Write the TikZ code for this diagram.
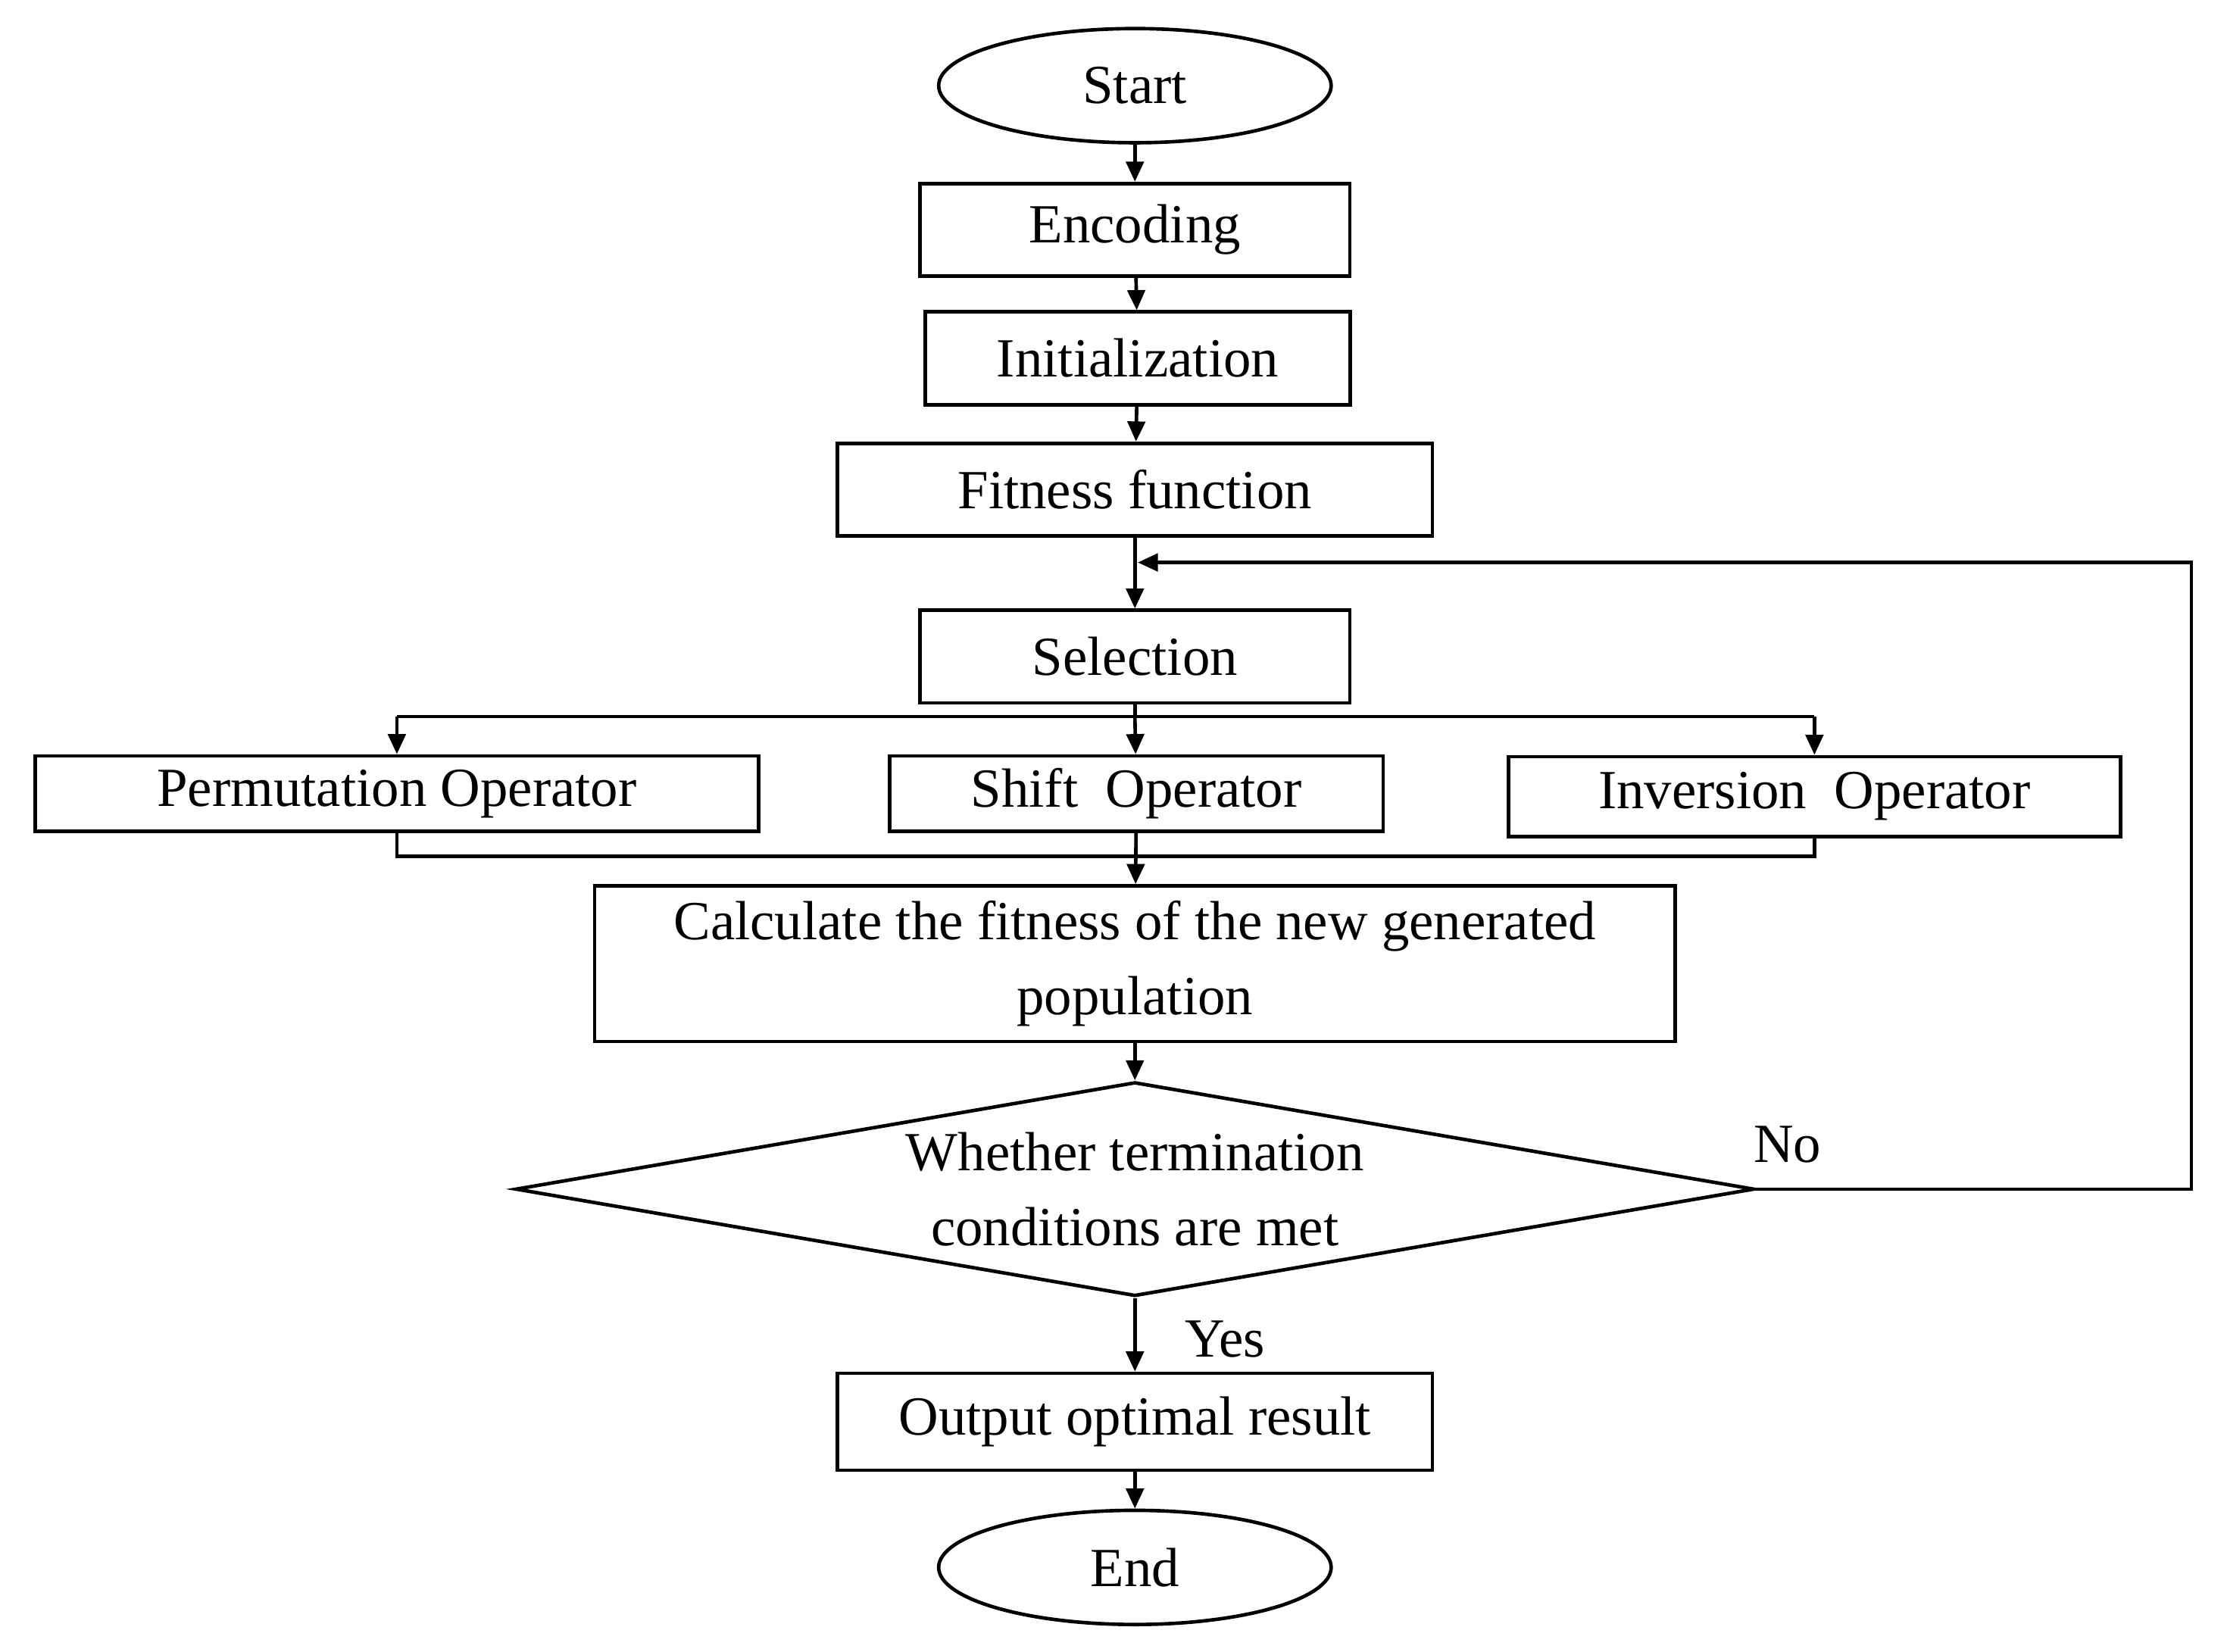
\documentclass[tikz,border=0pt]{standalone}
\usepackage{fontspec}
\setmainfont{Liberation Serif}
\usetikzlibrary{shapes.geometric,arrows.meta}
\begin{document}
\begin{tikzpicture}[x=0.02cm,y=-0.02cm,
    font=\fontsize{22}{30}\selectfont,
    proc/.style={rectangle, draw=black, line width=1.4pt, minimum height=1.3cm, align=center, inner sep=2pt},
    term/.style={ellipse, draw=black, line width=1.4pt, minimum width=5.5cm, minimum height=1.6cm},
    test/.style={diamond, draw=black, line width=1.4pt, minimum width=17.36cm, minimum height=3cm, aspect=5.8, inner sep=0pt, align=center},
    flow/.style={-{Triangle[length=8pt,width=7pt]}, line width=1.4pt},
    link/.style={line width=1.4pt},
]
\useasboundingbox (0,0) rectangle (1560,1157);

\node[term] (start) at (795,60) {Start};
\node[proc, minimum width=6.02cm] (enc) at (795,161) {Encoding};
\node[proc, minimum width=5.96cm] (init) at (797,251) {Initialization};
\node[proc, minimum width=8.34cm] (fit) at (795,343) {Fitness function};
\node[proc, minimum width=6.02cm] (sel) at (795,460) {Selection};

\node[proc, minimum width=10.14cm, minimum height=1.06cm] (perm) at (278,556) {Permutation Operator};
\node[proc, minimum width=6.92cm, minimum height=1.06cm] (shift) at (796,556) {Shift\ \ Operator};
\node[proc, minimum width=8.58cm, minimum height=1.12cm] (inv) at (1271,558) {Inversion\ \ Operator};

\node[proc, minimum width=15.14cm, minimum height=2.18cm] (calc) at (795,675) {Calculate the fitness of the new generated\\population};
\node[test] (cond) at (795,833) {Whether termination\\conditions are met};
\node[proc, minimum width=8.34cm, minimum height=1.36cm] (out) at (795,996) {Output optimal result};
\node[term] (end) at (795,1098) {End};

\coordinate (split) at (795,502);
\coordinate (splitL) at (278,502);
\coordinate (splitR) at (1271,502);
\coordinate (mergeL) at (278,600);
\coordinate (mergeR) at (1271,600);
\coordinate (merge) at (796,600);
\coordinate (loopA) at (1535,833);
\coordinate (loopB) at (1535,394);
\coordinate (loopC) at (797,394);

\draw[flow] (start) -- (enc);
\draw[flow] (enc) -- (init);
\draw[flow] (init) -- (fit);
\draw[flow] (fit) -- (sel);
\draw[link] (sel) -- (split);
\draw[link] (splitL) -- (splitR);
\draw[flow] (splitL) -- (perm);
\draw[flow] (split) -- (shift);
\draw[flow] (splitR) -- (inv);
\draw[link] (perm.south) -- (mergeL) -- (mergeR) -- (inv.south);
\draw[flow] (shift) -- (calc);
\draw[flow] (calc) -- (cond);
\draw[flow] (cond) -- (out);
\draw[flow] (out) -- (end);
\draw[flow] (cond.east) -- (loopA) -- (loopB) -- (loopC);

\node (no) at (1252,802) {No};
\node (yes) at (858,938) {Yes};
\end{tikzpicture}
\end{document}
